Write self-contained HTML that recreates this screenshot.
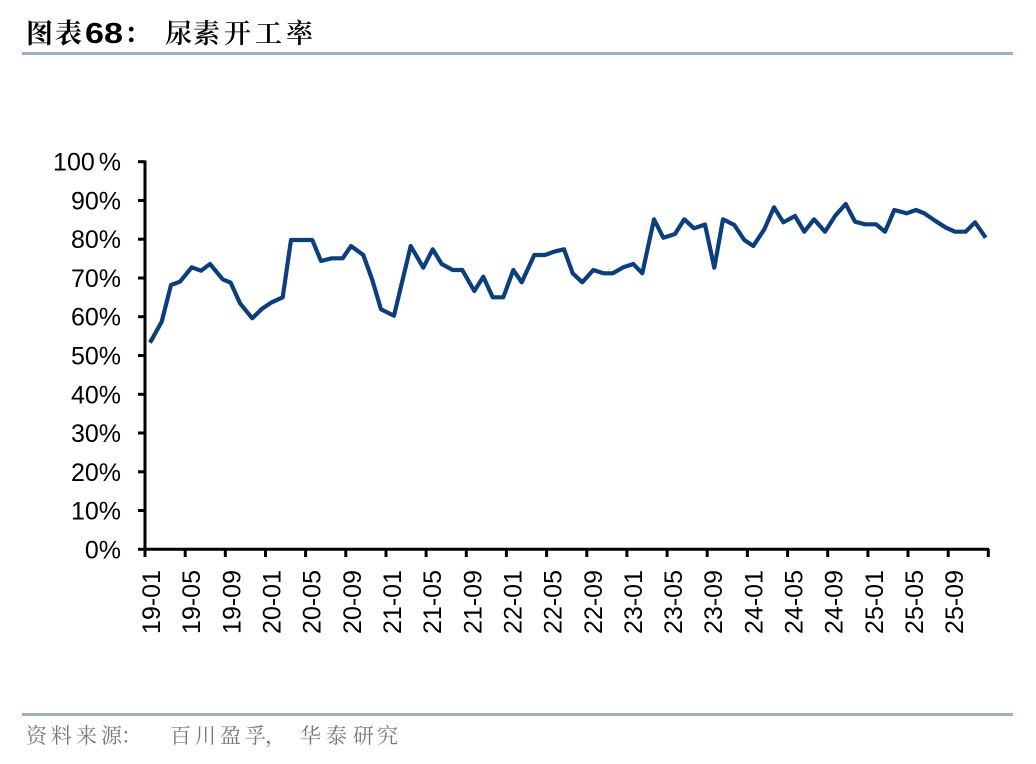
<!DOCTYPE html>
<html>
<head>
<meta charset="utf-8">
<style>
html,body{margin:0;padding:0;background:#fff;}
svg{display:block;}
</style>
</head>
<body>
<svg width="1036" height="764" viewBox="0 0 1036 764" xmlns="http://www.w3.org/2000/svg">
<rect width="1036" height="764" fill="#fff"/>
<!-- Title -->
<g font-family="'Noto Serif CJK SC','Noto Sans CJK SC',serif" fill="#000">
  <text x="26" y="43" font-size="27" font-weight="bold">图</text>
  <text x="55" y="43" font-size="27" font-weight="bold">表</text>
  <text x="85" y="43" font-size="29" font-weight="bold" font-family="'Liberation Sans',sans-serif" textLength="38" lengthAdjust="spacingAndGlyphs">68</text>
  <text x="124" y="43" font-size="27" font-weight="bold">：</text>
  <text x="165" y="43" font-size="27" font-weight="600">尿</text>
  <text x="193" y="43" font-size="27" font-weight="600">素</text>
  <text x="224" y="43" font-size="27" font-weight="600">开</text>
  <text x="255" y="43" font-size="27" font-weight="600">工</text>
  <text x="286" y="43" font-size="27" font-weight="600">率</text>
</g>
<rect x="22" y="52" width="991" height="3" fill="#9db0c8"/>

<!-- Axes -->
<g stroke="#000" stroke-width="3" fill="none">
  <line x1="145" y1="160.5" x2="145" y2="550.5"/>
  <line x1="143.5" y1="549.3" x2="989" y2="549.3"/>
  <line x1="138" y1="549.3" x2="145" y2="549.3"/>
  <line x1="138" y1="510.5" x2="145" y2="510.5"/>
  <line x1="138" y1="471.8" x2="145" y2="471.8"/>
  <line x1="138" y1="433.0" x2="145" y2="433.0"/>
  <line x1="138" y1="394.3" x2="145" y2="394.3"/>
  <line x1="138" y1="355.5" x2="145" y2="355.5"/>
  <line x1="138" y1="316.7" x2="145" y2="316.7"/>
  <line x1="138" y1="278.0" x2="145" y2="278.0"/>
  <line x1="138" y1="239.2" x2="145" y2="239.2"/>
  <line x1="138" y1="200.5" x2="145" y2="200.5"/>
  <line x1="138" y1="161.7" x2="145" y2="161.7"/>
  <line x1="145.0" y1="549" x2="145.0" y2="557"/>
  <line x1="185.2" y1="549" x2="185.2" y2="557"/>
  <line x1="225.3" y1="549" x2="225.3" y2="557"/>
  <line x1="265.5" y1="549" x2="265.5" y2="557"/>
  <line x1="305.6" y1="549" x2="305.6" y2="557"/>
  <line x1="345.8" y1="549" x2="345.8" y2="557"/>
  <line x1="386.0" y1="549" x2="386.0" y2="557"/>
  <line x1="426.1" y1="549" x2="426.1" y2="557"/>
  <line x1="466.3" y1="549" x2="466.3" y2="557"/>
  <line x1="506.4" y1="549" x2="506.4" y2="557"/>
  <line x1="546.6" y1="549" x2="546.6" y2="557"/>
  <line x1="586.8" y1="549" x2="586.8" y2="557"/>
  <line x1="626.9" y1="549" x2="626.9" y2="557"/>
  <line x1="667.1" y1="549" x2="667.1" y2="557"/>
  <line x1="707.2" y1="549" x2="707.2" y2="557"/>
  <line x1="747.4" y1="549" x2="747.4" y2="557"/>
  <line x1="787.6" y1="549" x2="787.6" y2="557"/>
  <line x1="827.7" y1="549" x2="827.7" y2="557"/>
  <line x1="867.9" y1="549" x2="867.9" y2="557"/>
  <line x1="908.0" y1="549" x2="908.0" y2="557"/>
  <line x1="948.2" y1="549" x2="948.2" y2="557"/>
  <line x1="988.3" y1="549" x2="988.3" y2="557"/>
</g>

<!-- Y labels -->
<g font-family="'Liberation Sans',Arial,sans-serif" font-size="25" fill="#000" text-anchor="end">
  <text x="121" y="558.3">0%</text>
  <text x="121" y="519.5">10%</text>
  <text x="121" y="480.8">20%</text>
  <text x="121" y="442.0">30%</text>
  <text x="121" y="403.3">40%</text>
  <text x="121" y="364.5">50%</text>
  <text x="121" y="325.7">60%</text>
  <text x="121" y="287.0">70%</text>
  <text x="121" y="248.2">80%</text>
  <text x="121" y="209.5">90%</text>
  <text x="121" y="170.7">100<tspan dx="4">%</tspan></text>
</g>

<!-- X labels -->
<g font-family="'Liberation Sans',Arial,sans-serif" font-size="25" fill="#000" text-anchor="end">
  <text transform="translate(160.0,570) rotate(-90)">19-01</text>
  <text transform="translate(200.2,570) rotate(-90)">19-05</text>
  <text transform="translate(240.3,570) rotate(-90)">19-09</text>
  <text transform="translate(280.5,570) rotate(-90)">20-01</text>
  <text transform="translate(320.6,570) rotate(-90)">20-05</text>
  <text transform="translate(360.8,570) rotate(-90)">20-09</text>
  <text transform="translate(401.0,570) rotate(-90)">21-01</text>
  <text transform="translate(441.1,570) rotate(-90)">21-05</text>
  <text transform="translate(481.3,570) rotate(-90)">21-09</text>
  <text transform="translate(521.4,570) rotate(-90)">22-01</text>
  <text transform="translate(561.6,570) rotate(-90)">22-05</text>
  <text transform="translate(601.8,570) rotate(-90)">22-09</text>
  <text transform="translate(641.9,570) rotate(-90)">23-01</text>
  <text transform="translate(682.1,570) rotate(-90)">23-05</text>
  <text transform="translate(722.2,570) rotate(-90)">23-09</text>
  <text transform="translate(762.4,570) rotate(-90)">24-01</text>
  <text transform="translate(802.6,570) rotate(-90)">24-05</text>
  <text transform="translate(842.7,570) rotate(-90)">24-09</text>
  <text transform="translate(882.9,570) rotate(-90)">25-01</text>
  <text transform="translate(923.0,570) rotate(-90)">25-05</text>
  <text transform="translate(963.2,570) rotate(-90)">25-09</text>
</g>

<!-- Series -->
<polyline fill="none" stroke="#0b3e7c" stroke-width="4.2" stroke-linejoin="round" stroke-linecap="butt" points="
150,342.7 161.7,321.7 171,285 180,281.7 191.7,267.3 201,270.7 210,264 222.7,279.3 230.7,282.7 240,303.3
252.3,318.3 261.7,309 271,302.7 282.7,297.3 291,240 312.3,240 321,261 331.7,258.3 342.7,258.3 351,246
363.3,255 372.3,280 381,309.3 394,315.7 410.7,246 423.3,267.7 432.7,249.3 441.7,264 452.7,270 462.3,270
474.3,291 483.3,276.7 492.7,297.3 503.3,297.3 513.3,270 521.7,282.3 534.3,255 545,255 554,251.7 564,249.3
572.7,273.3 582.3,282.3 593.3,270 603.3,273.3 612.7,273.3 623.3,267.3 633.3,264 642.3,273.3 654,219.3 663.3,237.7
675,234 684.3,219.3 694,228.3 705,224.5 714.3,267.7 723,219.3 734.3,225 744.3,240 753.3,246 764.3,229.3
774,207.3 783.3,222.3 795,216 804.3,231.7 814,219.3 825,231.7 835,216 845.7,204 855,221.7 865,224.3
876,224.3 885,231.7 894.3,210 906.7,213.3 916,210 924.3,213.3 935,220.7 946,227.7 955,231.7 965.7,231.7
975,222.3 985.7,237.7"/>

<!-- Footer -->
<rect x="22" y="713" width="991" height="3" fill="#9db0c8"/>
<g font-family="'Noto Serif CJK SC','Noto Sans CJK SC',serif" font-size="21" fill="#777">
  <text x="26" y="743">资</text>
  <text x="51" y="743">料</text>
  <text x="76" y="743">来</text>
  <text x="101" y="743">源</text>
  <text x="121" y="743">：</text>
  <text x="170" y="743">百</text>
  <text x="195" y="743">川</text>
  <text x="220" y="743">盈</text>
  <text x="245" y="743">孚</text>
  <text x="265" y="743">，</text>
  <text x="300" y="743">华</text>
  <text x="326" y="743">泰</text>
  <text x="353" y="743">研</text>
  <text x="377" y="743">究</text>
</g>
</svg>
</body>
</html>
